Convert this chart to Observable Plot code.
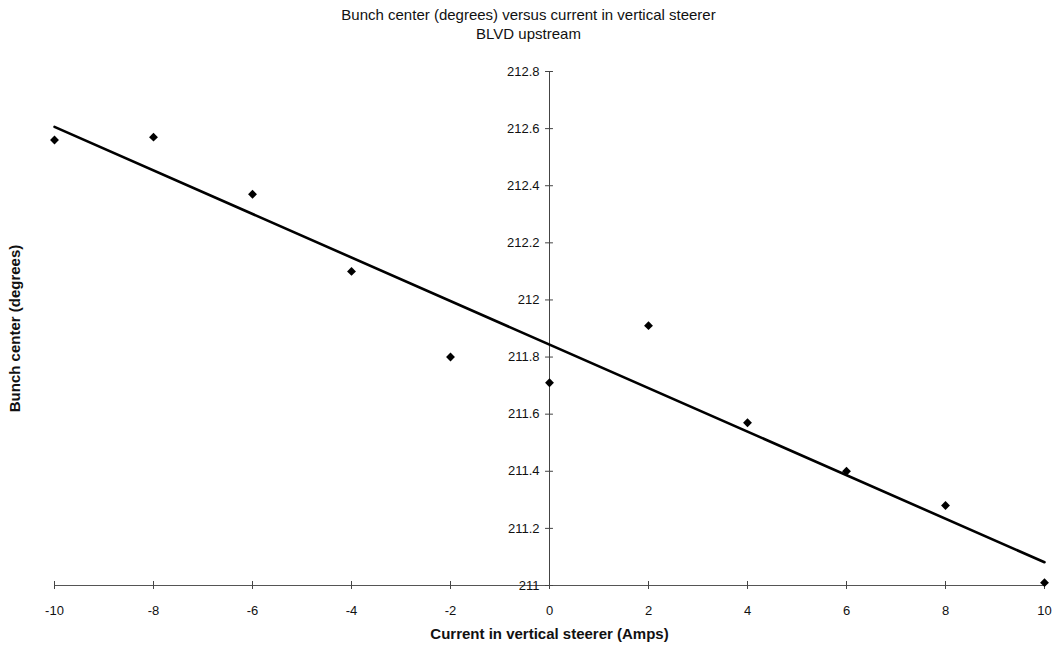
<!DOCTYPE html>
<html><head><meta charset="utf-8">
<script src="https://cdn.jsdelivr.net/npm/d3@7"></script>
<script src="https://cdn.jsdelivr.net/npm/@observablehq/plot@0.6"></script>
<style>
body{margin:0;background:#fff;font-family:"Liberation Sans",Arial,sans-serif;}
#title{width:1057px;text-align:center;font-size:15px;line-height:19px;padding-top:5px;height:41px;color:#111;}
#chart svg{display:block;}
</style></head><body>
<div id="title"><div>Bunch center (degrees) versus current in vertical steerer</div><div>BLVD upstream</div></div>
<div id="chart"></div>
<script>
// Data
const current = [-10, -8, -6, -4, -2, 0, 2, 4, 6, 8, 10];
const bunchCenter = [212.56, 212.57, 212.37, 212.10, 211.80, 211.71, 211.91, 211.57, 211.40, 211.28, 211.01];
const xTicks = [-10, -8, -6, -4, -2, 0, 2, 4, 6, 8, 10];
const xTickLabels = ["-10", "-8", "-6", "-4", "-2", "0", "2", "4", "6", "8", "10"];
const yTicks = [211, 211.2, 211.4, 211.6, 211.8, 212, 212.2, 212.4, 212.6, 212.8];
const yTickLabels = ["211", "211.2", "211.4", "211.6", "211.8", "212", "212.2", "212.4", "212.6", "212.8"];
const xTitle = "Current in vertical steerer (Amps)";
const yTitle = "Bunch center (degrees)";

const data = current.map((x, i) => ({x, y: bunchCenter[i]}));
const xTickData = xTicks.map((v, i) => ({v, label: xTickLabels[i]}));
const yTickData = yTicks.map((v, i) => ({v, label: yTickLabels[i]}));

const chart = Plot.plot({
  width: 1057,
  height: 606,
  marginLeft: 54,
  marginRight: 13,
  marginTop: 25,
  marginBottom: 67,
  x: {domain: [-10, 10], axis: null},
  y: {domain: [211, 212.8], axis: null},
  style: {fontFamily: "'Liberation Sans', Arial, sans-serif", fontSize: "13px", color: "#111", background: "#fff"},
  marks: [
    // x axis line at y = 211 and its ticks
    Plot.ruleY([211], {stroke: "#555", strokeWidth: 1}),
    Plot.ruleX(xTickData, {x: "v", y1: 211 - 0.014, y2: 211 + 0.014, stroke: "#444", strokeWidth: 1}),
    Plot.text(xTickData, {x: "v", y: 211, text: "label", dy: 25, fontSize: 13, fill: "#111"}),
    // y axis line at x = 0 and its ticks
    Plot.ruleX([0], {y1: 211 - 0.014, y2: 212.8, stroke: "#444", strokeWidth: 1}),
    Plot.ruleY(yTickData, {y: "v", x1: -0.08, x2: 0.08, stroke: "#444", strokeWidth: 1}),
    Plot.text(yTickData, {x: 0, y: "v", text: "label", dx: -10, textAnchor: "end", fontSize: 13, fill: "#111"}),
    // regression line
    Plot.linearRegressionY(data, {x: "x", y: "y", ci: 0, stroke: "#000", strokeWidth: 2.6}),
    // data points
    Plot.dot(data, {x: "x", y: "y", symbol: "diamond2", r: 4, fill: "#000", stroke: "none"}),
    // axis titles
    Plot.text([xTitle], {frameAnchor: "bottom", dy: 53, text: d => d, textAnchor: "middle", fontWeight: "bold", fontSize: 15, fill: "#111"}),
    Plot.text([yTitle], {frameAnchor: "left", dx: -39, rotate: -90, text: d => d, textAnchor: "middle", fontWeight: "bold", fontSize: 15, fill: "#111"})
  ]
});
document.getElementById("chart").appendChild(chart);
</script>
</body></html>
